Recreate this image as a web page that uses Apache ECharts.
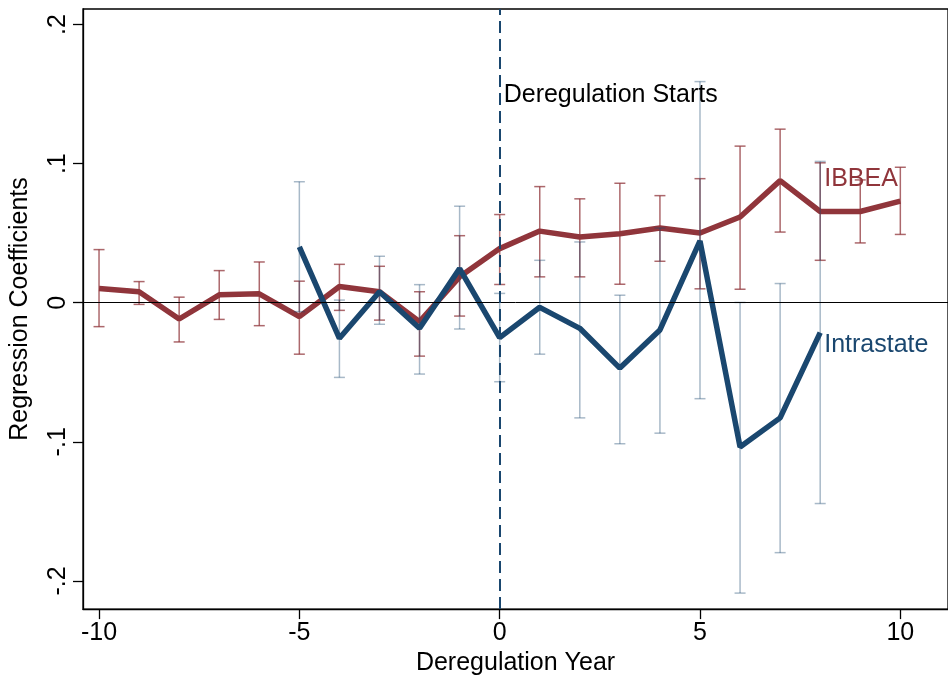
<!DOCTYPE html>
<html>
<head>
<meta charset="utf-8">
<script src="https://cdn.jsdelivr.net/npm/echarts@6/dist/echarts.min.js"></script>
<style>html,body{margin:0;padding:0;background:#fff;}#c{width:948px;height:681px;}</style>
</head>
<body>
<div id="c"></div>
<script>
// ---- data ----
const years = [-10,-9,-8,-7,-6,-5,-4,-3,-2,-1,0,1,2,3,4,5,6,7,8,9,10];
const ibbeaCoef = [0.0102,0.0079,-0.0117,0.0057,0.0064,-0.0100,0.0117,0.0079,-0.0136,0.0186,0.0389,0.0515,0.0472,0.0496,0.0537,0.0501,0.0616,0.0878,0.0656,0.0656,0.0730];
const ibbeaHi = [0.0382,0.0152,0.0040,0.0231,0.0293,0.0155,0.0276,0.0262,0.0079,0.0482,0.0634,0.0835,0.0747,0.0859,0.0770,0.0892,0.1126,0.1248,0.1006,0.0883,0.0974];
const ibbeaLo = [-0.0172,-0.0012,-0.0282,-0.0120,-0.0165,-0.0370,-0.0055,-0.0125,-0.0384,-0.0096,0.0131,0.0186,0.0186,0.0133,0.0298,0.0100,0.0097,0.0508,0.0305,0.0430,0.0491];

const intraYears = [-5,-4,-3,-2,-1,0,1,2,3,4,5,6,7,8];
const intraCoef = [0.0401,-0.0256,0.0079,-0.0184,0.0245,-0.0251,-0.0033,-0.0184,-0.0470,-0.0196,0.0444,-0.1038,-0.0828,-0.0215];
const intraHi = [0.0870,0.0019,0.0334,0.0130,0.0694,0.0067,0.0305,0.0437,0.0054,0.0537,0.1590,0.0002,0.0138,0.1016];
const intraLo = [-0.0064,-0.0537,-0.0155,-0.0513,-0.0189,-0.0568,-0.0370,-0.0828,-0.1014,-0.0938,-0.0690,-0.2088,-0.1797,-0.1444];

const xTicks = [-10,-5,0,5,10];
const yTicks = [-0.2,-0.1,0,0.1,0.2];
const yTickLabels = ['-.2','-.1','0','.1','.2'];

const annotations = [
  {x:0, y:0.149, text:'Deregulation Starts', color:'#000000'},
  {x:8, y:0.089, text:'IBBEA', color:'#90353b'},
  {x:8, y:-0.0303, text:'Intrastate', color:'#1a476f'}
];

// ---- chart ----
const RED = '#90353b', BLUE = '#1a476f';
const FONT = 'Liberation Sans, Arial, sans-serif';
const FS = 25;
const chart = echarts.init(document.getElementById('c'), null, {renderer:'canvas'});

function errorBar(color, width) {
  return function (params, api) {
    const x = api.value(0);
    const p1 = api.coord([x, api.value(1)]);
    const p2 = api.coord([x, api.value(2)]);
    const hw = 5.5;
    const style = {stroke: color, lineWidth: width};
    return {
      type: 'group',
      children: [
        {type:'line', shape:{x1:p1[0], y1:p1[1], x2:p2[0], y2:p2[1]}, style: style},
        {type:'line', shape:{x1:p1[0]-hw, y1:p1[1], x2:p1[0]+hw, y2:p1[1]}, style: style},
        {type:'line', shape:{x1:p2[0]-hw, y1:p2[1], x2:p2[0]+hw, y2:p2[1]}, style: style}
      ]
    };
  };
}

const option = {
  animation: false,
  backgroundColor: '#ffffff',
  textStyle: {fontFamily: FONT},
  grid: {left: 82, top: 9, right: -3, bottom: 69, show: true, borderColor: '#000', borderWidth: 1.3, containLabel: false},
  xAxis: {
    type: 'value', min: -10.4, max: 11.19,
    name: 'Deregulation Year', nameLocation: 'middle', nameGap: 38,
    nameTextStyle: {fontSize: FS, color: '#000', fontFamily: FONT},
    axisLine: {show: true, onZero: false, lineStyle: {color: '#000', width: 1.3}},
    axisTick: {show: true, length: 10, customValues: xTicks, lineStyle: {color: '#000', width: 1.3}},
    axisLabel: {customValues: xTicks, fontSize: FS, color: '#000', margin: 12, fontFamily: FONT},
    splitLine: {show: false}
  },
  yAxis: {
    type: 'value', min: -0.2203, max: 0.2112,
    name: 'Regression Coefficients', nameLocation: 'middle', nameGap: 50,
    nameTextStyle: {fontSize: FS, color: '#000', fontFamily: FONT},
    axisLine: {show: true, onZero: false, lineStyle: {color: '#000', width: 1.3}},
    axisTick: {show: true, length: 10, customValues: yTicks, lineStyle: {color: '#000', width: 1.3}},
    axisLabel: {customValues: yTicks, rotate: 90, fontSize: FS, color: '#000', margin: 12, fontFamily: FONT,
      formatter: function (v) { const i = yTicks.findIndex(t => Math.abs(t - v) < 1e-9); return i >= 0 ? yTickLabels[i] : ''; }},
    splitLine: {show: false}
  },
  series: [
    {
      type: 'line', name: 'IBBEA', z: 2,
      data: years.map((x, i) => [x, ibbeaCoef[i]]),
      symbol: 'none', lineStyle: {color: RED, width: 5.5}, itemStyle: {color: RED},
      markLine: {
        silent: true, symbol: 'none', label: {show: false}, animation: false,
        data: [
          {yAxis: 0, lineStyle: {color: '#000', width: 1, type: 'solid'}},
          {xAxis: 0, lineStyle: {color: BLUE, width: 2, type: [12, 6]}}
        ]
      }
    },
    {
      type: 'custom', name: 'IBBEA CI', z: 3,
      renderItem: errorBar('rgba(144,53,59,0.75)', 1.5),
      data: years.map((x, i) => [x, ibbeaHi[i], ibbeaLo[i]]),
      encode: {x: 0, y: [1, 2]}
    },
    {
      type: 'custom', name: 'Intrastate CI', z: 3,
      renderItem: errorBar('rgba(26,71,111,0.38)', 1.5),
      data: intraYears.map((x, i) => [x, intraHi[i], intraLo[i]]),
      encode: {x: 0, y: [1, 2]}
    },
    {
      type: 'line', name: 'Intrastate', z: 4,
      data: intraYears.map((x, i) => [x, intraCoef[i]]),
      symbol: 'none', lineStyle: {color: BLUE, width: 5.5}, itemStyle: {color: BLUE}
    },
    {
      type: 'scatter', name: 'labels', z: 5, silent: true,
      symbolSize: 0, itemStyle: {opacity: 1},
      data: annotations.map(a => ({
        value: [a.x, a.y], text: a.text,
        label: {color: a.color, opacity: 1, textBorderWidth: 0}
      })),
      label: {show: true, position: 'right', distance: 4, fontSize: FS, fontFamily: FONT,
        opacity: 1, textBorderWidth: 0,
        formatter: function (p) { return p.data.text; }}
    }
  ]
};
chart.setOption(option);
</script>
</body>
</html>
